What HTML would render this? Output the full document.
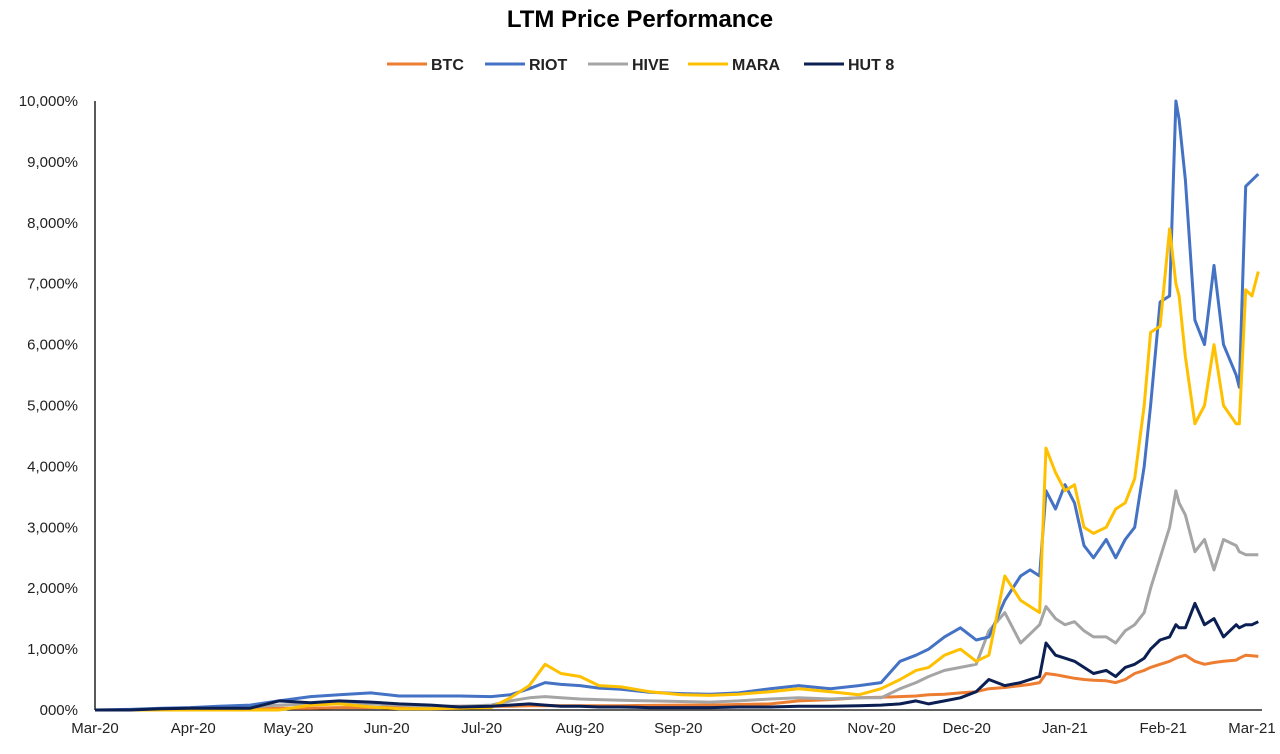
<!DOCTYPE html>
<html><head><meta charset="utf-8"><style>
body{margin:0;background:#fff;font-family:"Liberation Sans",Arial,sans-serif}
svg text{font-family:"Liberation Sans",Arial,sans-serif}
</style></head><body>
<svg id="chart" width="1280" height="749" viewBox="0 0 1280 749" xmlns="http://www.w3.org/2000/svg">
<text x="640" y="27" text-anchor="middle" font-size="24" font-weight="bold" fill="#000">LTM Price Performance</text>
<g id="legend"></g>
<g id="yaxis"></g>
<g id="xaxis"></g>
<g id="series"></g>
</svg>
<script>
const days=[0,11,21,30,39,49,58,68,77,87,96,106,115,125,131,137,142,147,153,159,166,175,185,194,203,213,222,232,241,248,254,259,263,268,273,278,282,287,292,295,298,300,303,306,309,312,315,319,322,325,328,331,333,336,339,341,342,344,347,350,353,356,360,361,363,365,367];
const btc=[0,0,0,10,20,20,30,30,40,40,50,50,60,60,60,70,70,70,70,70,70,75,80,80,90,100,150,170,200,210,220,230,250,260,280,300,350,370,400,420,450,600,580,550,520,500,490,480,450,500,600,650,700,750,800,850,870,900,800,750,780,800,820,850,900,890,880];
const riot=[0,10,30,40,60,80,150,220,250,280,230,230,230,220,250,350,450,420,400,360,340,290,270,260,280,350,400,350,400,450,800,900,1000,1200,1350,1150,1200,1800,2200,2300,2200,3600,3300,3700,3400,2700,2500,2800,2500,2800,3000,4000,5000,6700,6800,10000,9700,8700,6400,6000,7300,6000,5500,5300,8600,8700,8800];
const hive=[0,0,10,20,30,50,80,100,100,100,80,60,60,80,150,200,220,200,180,170,160,150,140,130,150,180,200,180,200,200,350,450,550,650,700,750,1300,1600,1100,1250,1400,1700,1500,1400,1450,1300,1200,1200,1100,1300,1400,1600,2000,2500,3000,3600,3400,3200,2600,2800,2300,2800,2700,2600,2550,2550,2550];
const mara=[0,0,0,0,0,0,0,80,100,50,20,20,30,40,200,400,750,600,550,400,380,300,250,240,260,300,350,300,250,350,500,650,700,900,1000,800,900,2200,1800,1700,1600,4300,3900,3600,3700,3000,2900,3000,3300,3400,3800,5000,6200,6300,7900,7000,6800,5800,4700,5000,6000,5000,4700,4700,6900,6800,7200];
const hut=[0,0,20,30,30,30,150,120,150,130,100,80,50,60,80,100,80,60,60,50,50,40,40,40,50,50,60,60,70,80,100,150,100,150,200,300,500,400,450,500,550,1100,900,850,800,700,600,650,550,700,750,850,1000,1150,1200,1400,1350,1350,1750,1400,1500,1200,1400,1350,1400,1400,1450];
const yTicks=[0,1000,2000,3000,4000,5000,6000,7000,8000,9000,10000];
const yTickLabels=["000%","1,000%","2,000%","3,000%","4,000%","5,000%","6,000%","7,000%","8,000%","9,000%","10,000%"];
const xTicks=[0,31,61,92,122,153,184,214,245,275,306,337,365];
const xTickLabels=["Mar-20","Apr-20","May-20","Jun-20","Jul-20","Aug-20","Sep-20","Oct-20","Nov-20","Dec-20","Jan-21","Feb-21","Mar-21"];
const seriesNames=["BTC","RIOT","HIVE","MARA","HUT 8"];
const colors=["#ED7D31","#4472C4","#A5A5A5","#FFC000","#0B1F52"];

const NS="http://www.w3.org/2000/svg";
const X0=95,X1=1262,Y0=710,Y1=101;
function xs(d){return X0+d*(1252-X0)/365;}
function ys(v){return Y0-v*(Y0-Y1)/10000;}
function mk(tag,attrs,parent){const e=document.createElementNS(NS,tag);for(const k in attrs)e.setAttribute(k,attrs[k]);parent.appendChild(e);return e;}

const ya=document.getElementById('yaxis');
const yl=mk('line',{x1:X0,y1:Y1,x2:X0,y2:Y0,stroke:'#000','stroke-width':1.3},ya);


yTicks.forEach((v,i)=>{
  const t=mk('text',{x:78,y:ys(v)+5,'text-anchor':'end','font-size':15,fill:'#222'},ya);
  t.textContent=yTickLabels[i];
  
  
});
const xa=document.getElementById('xaxis');
const xl=mk('line',{x1:X0,y1:Y0,x2:X1,y2:Y0,stroke:'#000','stroke-width':1.3},xa);


xTicks.forEach((d,i)=>{
  const t=mk('text',{x:xs(d),y:733,'text-anchor':'middle','font-size':15,fill:'#222'},xa);
  t.textContent=xTickLabels[i];
  
  
});

const sg=document.getElementById('series');
const data=[btc,hive,riot,mara,hut];
const idx=[0,2,1,3,4];
data.forEach((vals,k)=>{
  const i=idx[k];
  const pts=vals.map((v,j)=>xs(days[j]).toFixed(1)+','+ys(v).toFixed(1)).join(' ');
  const p=mk('polyline',{points:pts,fill:'none',stroke:colors[i],'stroke-width':3,'stroke-linejoin':'round'},sg);
  
  
});

const lg=document.getElementById('legend');
const lx=[387,485,588,688,804];
seriesNames.forEach((n,i)=>{
  const g=mk('g',{},lg);
  
  
  mk('line',{x1:lx[i],y1:64,x2:lx[i]+40,y2:64,stroke:colors[i],'stroke-width':3},g);
  const t=mk('text',{x:lx[i]+44,y:70,'font-size':16,'font-weight':'bold',fill:'#222'},g);
  t.textContent=n;
});
</script>
</body></html>
